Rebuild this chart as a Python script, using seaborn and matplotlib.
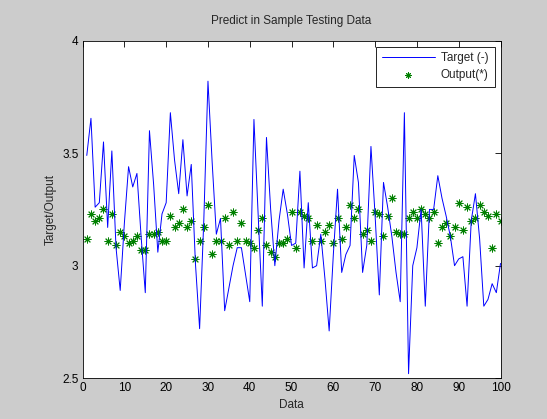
import numpy as np
import pandas as pd
import matplotlib
matplotlib.use('Agg')
import matplotlib.pyplot as plt
import seaborn as sns

# values
data_idx = list(range(1, 101))
target = [3.49, 3.655, 3.26, 3.28, 3.55, 3.17, 3.51, 3.08, 2.89, 3.19,
          3.44, 3.35, 3.41, 3.13, 2.88, 3.60, 3.36, 3.06, 3.23, 3.28,
          3.68, 3.47, 3.32, 3.56, 3.31, 3.45, 3.01, 2.72, 3.20, 3.82,
          3.46, 3.14, 3.21, 2.80, 2.90, 3.00, 3.08, 3.08, 2.96, 2.84,
          3.65, 3.23, 2.82, 3.57, 3.25, 3.00, 3.20, 3.34, 3.23, 3.09,
          3.10, 3.42, 2.99, 3.28, 2.99, 3.00, 3.14, 2.94, 2.71, 3.05,
          3.34, 2.97, 3.05, 3.09, 3.49, 3.37, 2.97, 3.09, 3.53, 3.22,
          2.87, 3.37, 3.26, 3.13, 2.97, 2.84, 3.68, 2.52, 3.00, 3.08,
          3.25, 2.82, 3.25, 3.25, 3.40, 3.30, 3.22, 3.13, 3.00, 3.03,
          3.04, 2.82, 3.20, 3.32, 3.12, 2.82, 2.85, 2.92, 2.88, 3.01]
output = [3.12, 3.23, 3.20, 3.21, 3.25, 3.11, 3.23, 3.09, 3.15, 3.13,
          3.10, 3.11, 3.13, 3.07, 3.07, 3.14, 3.14, 3.15, 3.11, 3.11,
          3.22, 3.17, 3.19, 3.25, 3.17, 3.20, 3.03, 3.11, 3.17, 3.27,
          3.05, 3.11, 3.11, 3.21, 3.09, 3.24, 3.11, 3.19, 3.11, 3.10,
          3.08, 3.16, 3.21, 3.09, 3.06, 3.04, 3.10, 3.10, 3.12, 3.24,
          3.08, 3.24, 3.22, 3.21, 3.11, 3.18, 3.11, 3.15, 3.18, 3.10,
          3.21, 3.12, 3.17, 3.27, 3.21, 3.25, 3.14, 3.16, 3.11, 3.24,
          3.23, 3.13, 3.22, 3.30, 3.15, 3.14, 3.14, 3.21, 3.24, 3.21,
          3.25, 3.23, 3.21, 3.24, 3.10, 3.17, 3.19, 3.13, 3.17, 3.28,
          3.16, 3.26, 3.20, 3.21, 3.27, 3.24, 3.22, 3.08, 3.23, 3.20]
x_ticks = [0, 10, 20, 30, 40, 50, 60, 70, 80, 90, 100]
y_ticks = [2.5, 3, 3.5, 4]

df = pd.DataFrame({'Data': data_idx, 'Target': target, 'Output': output})

sns.set_style('white')
plt.rcParams['font.family'] = ['Liberation Sans', 'DejaVu Sans']
plt.rcParams['font.size'] = 8.5

fig = plt.figure(figsize=(5.47, 4.19), dpi=100, facecolor='#cccccc')
ax = fig.add_axes([0.151, 0.0974, 0.764, 0.8055])
ax.set_facecolor('white')

sns.lineplot(data=df, x='Data', y='Target', ax=ax, color='#0000ff',
             linewidth=0.7, label='Target (-)')
sns.scatterplot(data=df, x='Data', y='Output', ax=ax, color='#008000',
                marker=(8, 2, 0), s=26, linewidth=0.7, label='Output(*)')

ax.set_xlim(0, 100)
ax.set_ylim(2.5, 4)
ax.set_xticks(x_ticks)
ax.set_yticks(y_ticks)
ax.set_yticklabels(['2.5', '3', '3.5', '4'])
ax.tick_params(direction='in', length=4, width=0.6, top=True, right=True,
               labelsize=8.5, colors='black', pad=3)
for s in ax.spines.values():
    s.set_color('black')
    s.set_linewidth(0.6)

ax.set_title('Predict in Sample Testing Data', fontsize=8.5, pad=12)
ax.set_xlabel('Data', fontsize=8.5, labelpad=3)
ax.set_ylabel('Target/Output', fontsize=8.5, labelpad=4)

leg = ax.legend(loc='upper right', fancybox=False, framealpha=1,
                edgecolor='black', fontsize=8.5, borderaxespad=0.5,
                borderpad=0.5, handlelength=4.5, handletextpad=0.5,
                labelspacing=0.4, markerscale=0.8)
leg.get_frame().set_linewidth(0.6)

plt.savefig('out.png', dpi=100, facecolor=fig.get_facecolor())
